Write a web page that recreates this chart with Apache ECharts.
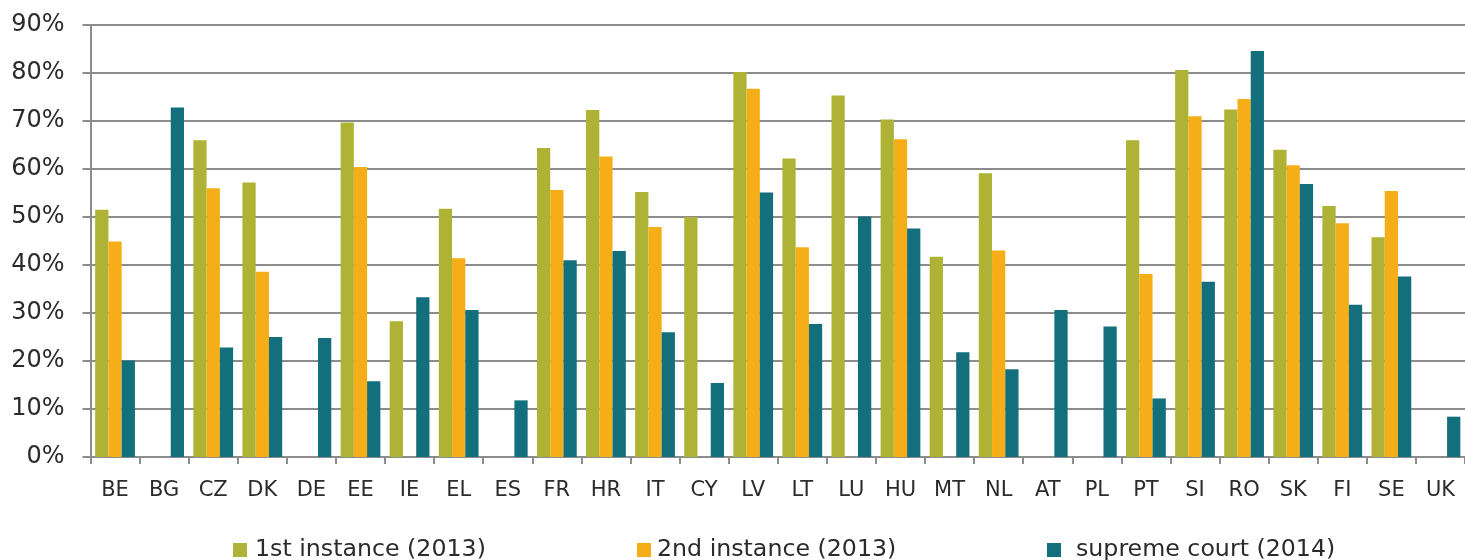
<!DOCTYPE html>
<html>
<head>
<meta charset="utf-8">
<script src="https://cdn.jsdelivr.net/npm/echarts@6/dist/echarts.min.js"></script>
<style>
html,body{margin:0;padding:0;background:#fff;}
#chart{width:1465px;height:560px;}
</style>
</head>
<body>
<div id="chart"></div>
<script>
const categories = ['BE','BG','CZ','DK','DE','EE','IE','EL','ES','FR','HR','IT','CY','LV','LT','LU','HU','MT','NL','AT','PL','PT','SI','RO','SK','FI','SE','UK'];
const firstInstance = [51.5,null,66.0,57.2,null,69.7,28.3,51.7,null,64.4,72.3,55.2,50.0,80.2,62.2,75.3,70.3,41.7,59.1,null,null,66.0,80.6,72.4,64.0,52.3,45.8,null];
const secondInstance = [44.9,null,56.0,38.6,null,60.4,null,41.4,null,55.6,62.6,47.9,null,76.7,43.7,null,66.2,null,43.0,null,null,38.1,71.0,74.6,60.8,48.7,55.4,null];
const supremeCourt = [20.1,72.8,22.8,25.0,24.8,15.8,33.3,30.6,11.8,41.0,42.9,26.0,15.4,55.1,27.7,50.1,47.6,21.8,18.3,30.6,27.2,12.2,36.5,84.6,56.9,31.7,37.6,8.4];
const yTicks = {min:0, max:90, interval:10};
const seriesNames = ['1st instance (2013)','2nd instance (2013)','supreme court (2014)'];
const colors = ['#AEB335','#F6AE18','#136F7C'];

const font = "'DejaVu Sans',sans-serif";
const chart = echarts.init(document.getElementById('chart'), null, {renderer:'canvas'});
const legendBase = (i, left, padLeft) => ({
  show:true, data:[seriesNames[i]], left:left, top:538, itemWidth:14, itemHeight:14,
  icon:'rect', padding:0,
  textStyle:{fontFamily:font, fontSize:23.7, color:'#2b2b2b', padding:[0,0,0,padLeft]}
});
chart.setOption({
  animation:false,
  backgroundColor:'#fff',
  grid:{left:90.5, top:25, width:1381, height:432, containLabel:false},
  legend:[legendBase(0,233,3), legendBase(1,637,1), legendBase(2,1047,10)],
  xAxis:{
    type:'category', data:categories, boundaryGap:true,
    axisLine:{lineStyle:{color:'#8c8c8c', width:2}},
    axisTick:{show:true, length:7, alignWithLabel:false, lineStyle:{color:'#8c8c8c', width:2}},
    axisLabel:{interval:0, margin:23, fontFamily:font, fontSize:21, color:'#2b2b2b'}
  },
  yAxis:{
    type:'value', min:yTicks.min, max:yTicks.max, interval:yTicks.interval,
    axisLine:{show:true, lineStyle:{color:'#8c8c8c', width:2}},
    axisTick:{show:true, length:8, inside:false, lineStyle:{color:'#8c8c8c', width:2}},
    splitLine:{show:true, lineStyle:{color:'#8c8c8c', width:2}},
    axisLabel:{formatter:'{value}%', margin:26, fontFamily:font, fontSize:24, color:'#2b2b2b'}
  },
  series:[
    {name:seriesNames[0], type:'bar', data:firstInstance, barGap:'0%', barCategoryGap:'19%', itemStyle:{color:colors[0]}},
    {name:seriesNames[1], type:'bar', data:secondInstance, barGap:'0%', barCategoryGap:'19%', itemStyle:{color:colors[1]}},
    {name:seriesNames[2], type:'bar', data:supremeCourt, barGap:'0%', barCategoryGap:'19%', itemStyle:{color:colors[2]}}
  ]
});
</script>
</body>
</html>
